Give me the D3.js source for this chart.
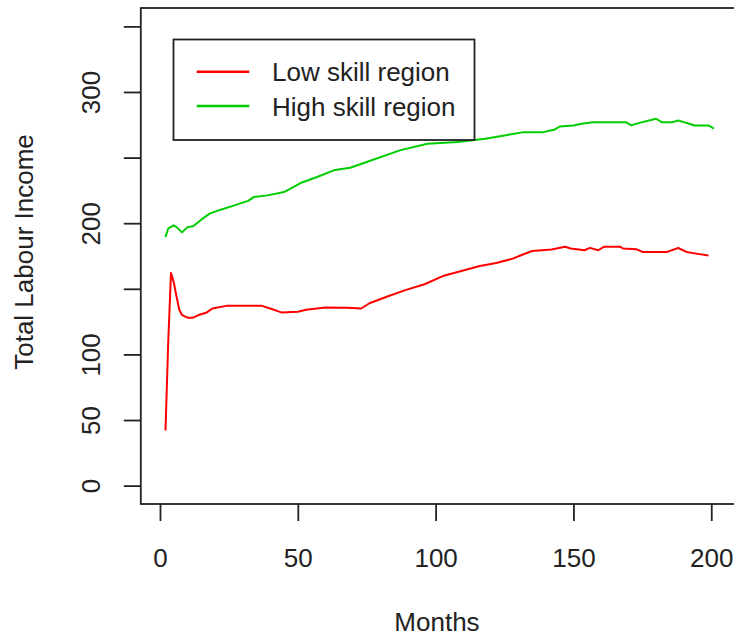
<!DOCTYPE html>
<html>
<head>
<meta charset="utf-8">
<script src="https://cdn.jsdelivr.net/npm/d3@7"></script>
<style>
  body { margin: 0; background: #fff; }
  text { font-family: "Liberation Sans", Arial, sans-serif; fill: #222; }
</style>
</head>
<body>
<div id="chart"></div>
<script>
// series: [month, total labour income]
var lowSkill = [
    [2, 42], [3, 110], [4, 162], [5, 155], [6, 144], [7, 134], [8, 130], [10, 128],
    [12, 128], [14, 130], [17, 132], [19, 135], [24, 137], [37, 137], [40, 135],
    [44, 132], [50, 132.5], [53, 134], [60, 135.7], [68, 135.5], [73, 135], [76, 139],
    [83, 144.5], [89, 149], [96, 153.5], [103, 160], [110, 164], [116, 167.4],
    [122, 169.7], [128, 173], [131, 175.6], [135, 178.8], [142, 180], [147, 182],
    [149, 180.7], [154, 179.4], [156, 181.2], [159, 179.4], [161, 182], [167, 182],
    [168, 180.7], [173, 180.1], [175, 178.1], [184, 178.1], [188, 181.1], [191, 178.1],
    [194, 177], [199, 175.3]
];
var highSkill = [
    [2, 189.5], [3, 196], [5, 198.4], [6, 197], [8, 193], [10, 197], [12, 197.6],
    [15, 202.7], [18, 207.3], [22, 210.3], [27, 213.6], [32, 217], [34, 219.9],
    [39, 221.2], [45, 223.7], [51, 230.6], [57, 235.2], [63, 240.3], [69, 242.3],
    [75, 246.6], [87, 255.5], [97, 260.6], [108, 261.8], [118, 264.4], [125, 266.9],
    [132, 269.4], [139, 269.4], [143, 271.2], [145, 273.7], [150, 274.5], [153, 275.8],
    [157, 277], [169, 277], [171, 274.5], [172, 275.3], [175, 277], [180, 279.6],
    [182, 277], [186, 277], [188, 278.3], [190, 277], [192, 275.8], [194, 274.5],
    [199, 274.5], [201, 272]
];
var seriesNames = ['Low skill region', 'High skill region'];
var seriesColors = ['#ff0000', '#00cd00'];
var xTicks = [0, 50, 100, 150, 200];
var yTicks = [0, 50, 100, 150, 200, 250, 300, 350];
var yTickLabels = [0, 50, 100, 200, 300]; // the others are dropped (overlap), as in R

var width = 734;
var height = 637;

var svg = d3.select('#chart')
    .append('svg')
    .attr('width', width)
    .attr('height', height);

// plot region, R style (4% padding on the data range)
var x = d3.scaleLinear().domain([-6.96, 207.96]).range([140.8, 733.2]);
var y = d3.scaleLinear().domain([-14, 364]).range([504, 8]);

// x axis
var xAxis = svg.append('g')
    .attr('transform', 'translate(0,504)')
    .call(d3.axisBottom(x).tickValues(xTicks).tickSize(17).tickPadding(0));
xAxis.select('.domain').remove();
xAxis.selectAll('line').attr('stroke', '#222').attr('stroke-width', 1.8);
xAxis.selectAll('text')
    .attr('y', 63)
    .attr('dy', null)
    .attr('font-size', 26)
    .attr('fill', '#222');

// y axis, labels rotated like R's default las=0
var yAxis = svg.append('g')
    .attr('transform', 'translate(140.8,0)')
    .call(d3.axisLeft(y).tickValues(yTicks).tickSize(17)
        .tickFormat((d) => yTickLabels.indexOf(d) >= 0 ? d : ''));
yAxis.select('.domain').remove();
yAxis.selectAll('line').attr('stroke', '#222').attr('stroke-width', 1.8);
yAxis.selectAll('text')
    .attr('x', null)
    .attr('dy', null)
    .attr('text-anchor', 'middle')
    .attr('transform', 'translate(-41,0) rotate(-90)')
    .attr('font-size', 26)
    .attr('fill', '#222');

// lines
var line = d3.line()
    .x((d) => x(d[0]))
    .y((d) => y(d[1]));

svg.selectAll('path.series')
    .data([lowSkill, highSkill])
    .enter()
    .append('path')
    .attr('class', 'series')
    .attr('d', line)
    .attr('fill', 'none')
    .attr('stroke', (d, i) => seriesColors[i])
    .attr('stroke-width', 2)
    .attr('stroke-linejoin', 'round');

// box
svg.append('rect')
    .attr('x', x.range()[0])
    .attr('y', 8)
    .attr('width', x.range()[1] - x.range()[0] + 4)
    .attr('height', 496)
    .attr('fill', 'none')
    .attr('stroke', '#222')
    .attr('stroke-width', 1.8);

// axis titles
svg.append('text')
    .attr('x', 437)
    .attr('y', 631)
    .attr('text-anchor', 'middle')
    .attr('font-size', 26)
    .text('Months');

svg.append('text')
    .attr('transform', 'translate(33,252) rotate(-90)')
    .attr('text-anchor', 'middle')
    .attr('font-size', 26)
    .text('Total Labour Income');

// legend
var legend = svg.append('g');
legend.append('rect')
    .attr('x', 173.5)
    .attr('y', 39.5)
    .attr('width', 301)
    .attr('height', 100.5)
    .attr('fill', '#fff')
    .attr('stroke', '#222')
    .attr('stroke-width', 1.8);

var legendY = d3.scalePoint().domain(seriesNames).range([71.7, 106]);

legend.selectAll('line.key')
    .data(seriesNames)
    .enter()
    .append('line')
    .attr('class', 'key')
    .attr('x1', 196.7)
    .attr('x2', 249.3)
    .attr('y1', (d) => legendY(d))
    .attr('y2', (d) => legendY(d))
    .attr('stroke', (d, i) => seriesColors[i])
    .attr('stroke-width', 2.6);

legend.selectAll('text.key')
    .data(seriesNames)
    .enter()
    .append('text')
    .attr('class', 'key')
    .attr('x', 272)
    .attr('y', (d) => legendY(d) + 9.5)
    .attr('font-size', 26)
    .text((d) => d);
</script>
</body>
</html>
